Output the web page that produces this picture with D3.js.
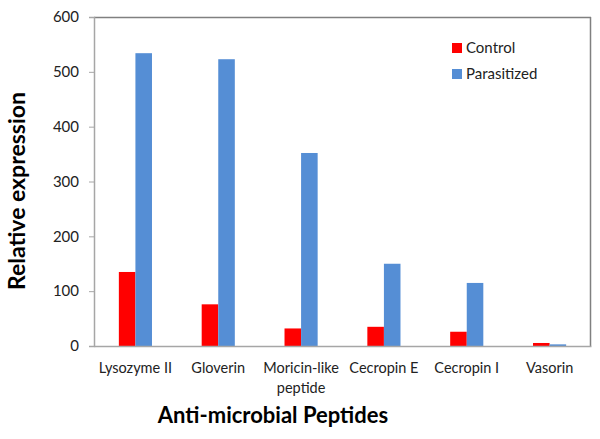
<!DOCTYPE html>
<html><head><meta charset="utf-8">
<script src="https://cdn.jsdelivr.net/npm/d3@7"></script>
<style>body{margin:0;background:#fff}svg{display:block}text{font-family:Lato,"Open Sans",sans-serif}</style>
</head><body><svg id="c" width="600" height="439"></svg>
<script>
const categories = ["Lysozyme II","Gloverin","Moricin-like peptide","Cecropin E","Cecropin I","Vasorin"];
const control = [135, 76, 32, 35, 26, 5.5];
const parasitized = [534, 523, 352, 150, 115, 3];
const seriesNames = ["Control","Parasitized"];
const yTicks = [0,100,200,300,400,500,600];
const colors = ["#FF0000","#558ED5"];

const svg = d3.select("#c");
const m = {l:94, t:17, r:591, b:346};
const x = d3.scaleBand().domain(categories).range([m.l, m.r]).paddingInner(0).paddingOuter(0);
const y = d3.scaleLinear().domain([0,600]).range([m.b, m.t]);
const xs = d3.scaleBand().domain(seriesNames).range([0, x.bandwidth()]).paddingInner(0).paddingOuter(1.5);

// frame
svg.append("line").attr("x1",m.l).attr("x2",m.r).attr("y1",m.t+0.5).attr("y2",m.t+0.5).attr("stroke","#808080").attr("stroke-width",1.5);
svg.append("line").attr("x1",m.r-0.5).attr("x2",m.r-0.5).attr("y1",m.t).attr("y2",m.b).attr("stroke","#808080").attr("stroke-width",1.5);

const data = categories.map((c,i)=>({c, v:[control[i], parasitized[i]]}));
const g = svg.append("g");
data.forEach(d=>{
  seriesNames.forEach((s,j)=>{
    g.append("rect").attr("x", x(d.c)+xs(s)).attr("width", xs.bandwidth())
     .attr("y", y(d.v[j])).attr("height", y(0)-y(d.v[j])).attr("fill", colors[j]);
  });
});

const ya = svg.append("g").attr("transform",`translate(${m.l},0)`)
  .call(d3.axisLeft(y).tickValues(yTicks).tickSize(5).tickPadding(10));
ya.select(".domain").attr("stroke","#A6A6A6").attr("stroke-width",1.5);
ya.selectAll(".tick line").attr("stroke","#A6A6A6");
ya.selectAll("text").attr("font-size",15).attr("fill","#222");

const xa = svg.append("g").attr("transform",`translate(0,${m.b})`)
  .call(d3.axisBottom(x).tickSize(0).tickFormat(""));
xa.select(".domain").attr("stroke","#A6A6A6").attr("stroke-width",1.5);

// x labels
const lines = {"Moricin-like peptide":["Moricin-like","peptide"]};
categories.forEach(c=>{
  const ls = lines[c] || [c];
  const t = svg.append("text").attr("x", x(c)+x.bandwidth()/2).attr("y", 373).attr("text-anchor","middle").attr("font-size",14.5).attr("fill","#222");
  ls.forEach((l,i)=>t.append("tspan").attr("x", x(c)+x.bandwidth()/2).attr("dy", i?20:0).text(l));
});

svg.append("text").attr("transform","translate(25,191) rotate(-90)").attr("text-anchor","middle")
  .attr("font-size",23).attr("font-weight","bold").attr("fill","#000").text("Relative expression");
svg.append("text").attr("x",273).attr("y",423).attr("text-anchor","middle")
  .attr("font-size",22).attr("font-weight","bold").attr("fill","#000").text("Anti-microbial Peptides");

// legend
const lg = svg.append("g");
seriesNames.forEach((s,i)=>{
  lg.append("rect").attr("x",452).attr("y",43+i*26).attr("width",10).attr("height",10).attr("fill",colors[i]);
  lg.append("text").attr("x",466).attr("y",53+i*26).attr("font-size",15).attr("fill","#222").text(s);
});
</script></body></html>
